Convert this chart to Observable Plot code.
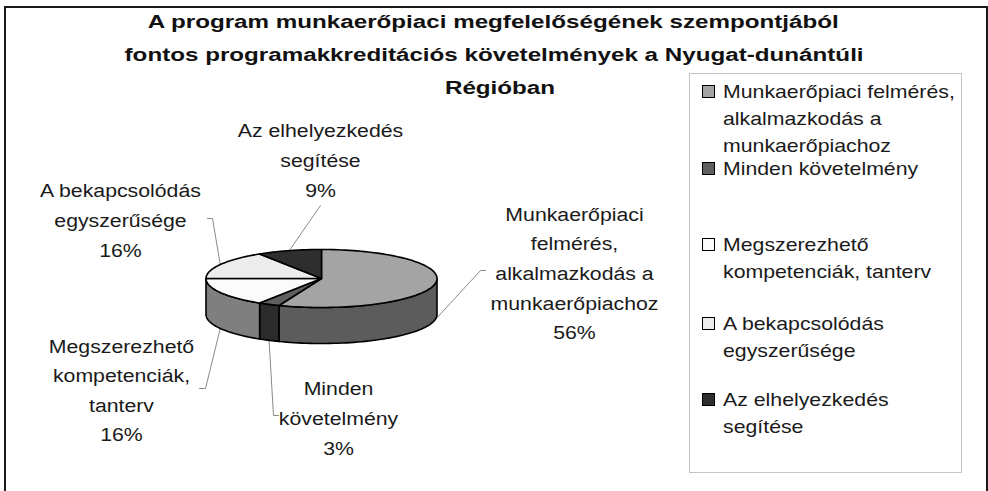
<!DOCTYPE html>
<html>
<head>
<meta charset="utf-8">
<script src="https://cdn.jsdelivr.net/npm/d3@7"></script>
<script src="https://cdn.jsdelivr.net/npm/@observablehq/plot@0.6"></script>
<style>
  body { margin: 0; background: #fff; font-family: "Liberation Sans", Arial, sans-serif; }
  #wrap { position: relative; width: 988px; height: 491px; overflow: hidden; background: #fff; }
  #frame { position: absolute; left: 4px; top: 6px; width: 984px; height: 520px; border: 2px solid #1a1a1a; box-sizing: border-box; }
  #chart { position: absolute; left: 0; top: 0; }
  .title { position: absolute; font-weight: bold; font-size: 18px; line-height: 20px; white-space: nowrap; color: #111; }
  #legend { position: absolute; left: 689px; top: 73px; width: 273px; height: 400px; border: 1px solid #c4c4c4; box-sizing: border-box; }
  .sw { position: absolute; width: 11px; height: 11px; border: 1px solid #000; }
  .lt { position: absolute; font-size: 19px; line-height: 27px; white-space: pre; color: #1a1a1a; transform-origin: 0 0; }
</style>
</head>
<body>
<div id="wrap">
  <div id="frame"></div>
  <div id="chart"></div>
  <div id="titles"></div>
  <div id="legend"></div>
</div>
<script>
// ---- data ----
const categories = [
  "Munkaerőpiaci felmérés, alkalmazkodás a munkaerőpiachoz",
  "Minden követelmény",
  "Megszerezhető kompetenciák, tanterv",
  "A bekapcsolódás egyszerűsége",
  "Az elhelyezkedés segítése"
];
const shares = [56, 3, 16, 16, 9];
const chartLabels = [
  "Munkaerőpiaci\nfelmérés,\nalkalmazkodás a\nmunkaerőpiachoz",
  "Minden\nkövetelmény",
  "Megszerezhető\nkompetenciák,\ntanterv",
  "A bekapcsolódás\negyszerűsége",
  "Az elhelyezkedés\nsegítése"
];
const legendLabels = [
  "Munkaerőpiaci felmérés,\nalkalmazkodás a\nmunkaerőpiachoz",
  "Minden követelmény",
  "Megszerezhető\nkompetenciák, tanterv",
  "A bekapcsolódás\negyszerűsége",
  "Az elhelyezkedés\nsegítése"
];
const titleLines = [
  "A program munkaerőpiaci megfelelőségének szempontjából",
  "fontos programakkreditációs követelmények a Nyugat-dunántúli",
  "Régióban"
];

// ---- styles / layout ----
const topColors = ["#a4a4a4", "#5f5f5f", "#fbfbfb", "#ececec", "#2e2e2e"];
const sideColors = ["#5c5c5c", "#2b2b2b", "#7f7f7f", "#8a8a8a", "#1e1e1e"];
const W = 988, H = 491;
const cx = 321, cy = 278, rx = 115.5, ry = 29, depth = 36;
// label block centre offsets from pie centre, and leader start/elbow offsets from label centre
const labelLayout = [
  {dx: 253, dy: -8, t0: [-89, 0], t1: [-94, 0]},
  {dx: 17, dy: 137, t0: [-60, 0], t1: [-65, 0]},
  {dx: -200, dy: 109, t0: [78, 1], t1: [84, 1]},
  {dx: -201, dy: -61, t0: [87, 1], t1: [92, 1]},
  {dx: -1, dy: -121, t0: [0, 48], t1: [0, 48]}
];
const xs = 1.12; // horizontal text stretch of the original rendering

// ---- geometry from data ----
const total = d3.sum(shares);
const rad = a => a * Math.PI / 180;
const P = (a, off = 0) => [cx + rx * Math.sin(rad(a)), cy - ry * Math.cos(rad(a)) + off];
const arcPts = (a0, a1, off) => {
  const n = Math.max(2, Math.ceil((a1 - a0) / 2));
  return d3.range(n + 1).map(k => P(a0 + (a1 - a0) * k / n, off));
};
let cum = 0;
const slices = shares.map((v, i) => {
  const a0 = cum / total * 360; cum += v; const a1 = cum / total * 360;
  return {i, v, a0, a1, mid: (a0 + a1) / 2};
});

const sideRows = [], topRows = [], leaderRows = [], labelRows = [];
slices.forEach(s => {
  const s0 = Math.max(s.a0, 90), s1 = Math.min(s.a1, 270);
  if (s1 > s0) {
    const pts = [...arcPts(s0, s1, 0), ...arcPts(s0, s1, depth).reverse()];
    pts.forEach(([x, y]) => sideRows.push({id: "s" + s.i, x, y, fill: sideColors[s.i]}));
  }
  const tp = [[cx, cy], ...arcPts(s.a0, s.a1, 0)];
  tp.forEach(([x, y]) => topRows.push({id: "t" + s.i, x, y, fill: topColors[s.i]}));

  const L = labelLayout[s.i];
  const lx = cx + L.dx, ly = cy + L.dy;
  labelRows.push({x: lx, y: ly, text: chartLabels[s.i] + "\n" + s.v + "%"});
  const front = Math.cos(rad(s.mid)) < 0;
  const rim = P(s.mid, front ? depth : 0);
  [[lx + L.t0[0], ly + L.t0[1]], [lx + L.t1[0], ly + L.t1[1]], rim]
    .forEach(([x, y]) => leaderRows.push({id: "l" + s.i, x, y}));
});

const plot = Plot.plot({
  width: W, height: H,
  marginTop: 0, marginRight: 0, marginBottom: 0, marginLeft: 0,
  x: {domain: [0, W], axis: null},
  y: {domain: [0, H], reverse: true, axis: null},
  color: {type: "identity"},
  style: {fontFamily: "'Liberation Sans', Arial, sans-serif", background: "transparent"},
  marks: [
    Plot.line(leaderRows, {x: "x", y: "y", z: "id", stroke: "#8a8a8a", strokeWidth: 1}),
    Plot.line(sideRows, {x: "x", y: "y", z: "id", fill: "fill", stroke: "#000", strokeWidth: 1.6, curve: "linear-closed", strokeLinejoin: "round"}),
    Plot.line(topRows, {x: "x", y: "y", z: "id", fill: "fill", stroke: "#000", strokeWidth: 1.6, curve: "linear-closed", strokeLinejoin: "round"}),
    Plot.text(labelRows, {x: "x", y: "y", text: "text", fontSize: 19, lineHeight: 1.56, fill: "#1a1a1a"})
  ]
});
plot.querySelectorAll('g[aria-label="text"] text').forEach(el => {
  const t = el.getAttribute("transform");
  if (t) el.setAttribute("transform", t + ` scale(${xs},1)`);
  else {
    const x = el.getAttribute("x") || 0, y = el.getAttribute("y") || 0;
    el.removeAttribute("x"); el.removeAttribute("y");
    el.setAttribute("transform", `translate(${x},${y}) scale(${xs},1)`);
  }
});
document.getElementById("chart").appendChild(plot);

// ---- title ----
const cvs = document.createElement("canvas").getContext("2d");
cvs.font = "bold 18px 'Liberation Sans'";
const tScale = 692 / cvs.measureText(titleLines[0]).width;
const titleCenters = [[494, 22], [494, 55], [500, 88]];
const tdiv = document.getElementById("titles");
titleLines.forEach((line, k) => {
  const d = document.createElement("div");
  d.className = "title";
  d.textContent = line;
  const w = cvs.measureText(line).width;
  d.style.left = (titleCenters[k][0] - w / 2) + "px";
  d.style.top = (titleCenters[k][1] - 10) + "px";
  d.style.transformOrigin = "50% 50%";
  d.style.transform = `scaleX(${tScale})`;
  tdiv.appendChild(d);
});

// ---- legend ----
const legendFirstLine = [90, 167, 243, 322, 398];
const leg = document.getElementById("legend");
categories.forEach((c, i) => {
  const yc = legendFirstLine[i] - 73;
  const sw = document.createElement("div");
  sw.className = "sw";
  sw.style.left = (701 - 689) + "px";
  sw.style.top = (yc - 6.5) + "px";
  sw.style.background = topColors[i];
  leg.appendChild(sw);
  const t = document.createElement("div");
  t.className = "lt";
  t.textContent = legendLabels[i];
  t.style.left = (722 - 689) + "px";
  t.style.top = (yc - 13.5) + "px";
  t.style.transform = `scaleX(${xs})`;
  leg.appendChild(t);
});
</script>
</body>
</html>
